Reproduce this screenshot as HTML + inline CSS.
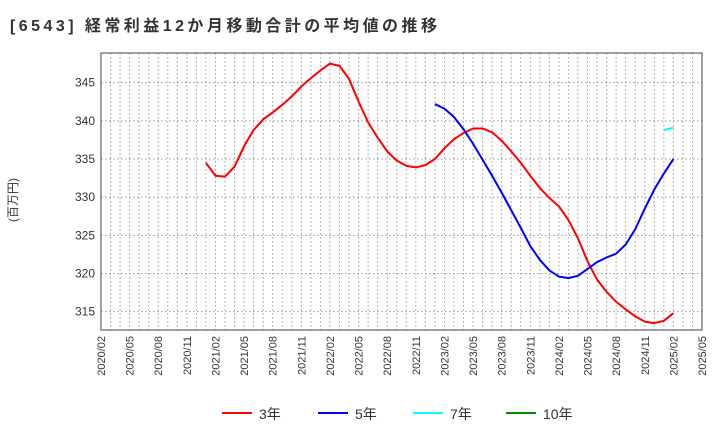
<!DOCTYPE html>
<html><head><meta charset="utf-8"><style>
body{margin:0;background:#fff;font-family:"Liberation Sans","Noto Sans CJK JP",sans-serif;}
</style></head><body>
<svg id="c" width="720" height="440" xmlns="http://www.w3.org/2000/svg" font-family="Liberation Sans, Noto Sans CJK JP, sans-serif">
<text x="10" y="31" font-size="16" font-weight="bold" fill="#333" textLength="427" lengthAdjust="spacing">[6543]  経常利益12か月移動合計の平均値の推移</text>
<text transform="translate(17,200) rotate(-90)" font-size="12" fill="#333" text-anchor="middle">(百万円)</text>
<g id="grid"></g><g id="series"></g><g id="axes"></g>
<g id="legend"></g>
</svg>
<script>
const yTicks=[315,320,325,330,335,340,345];
const xLabels=["2020/02","2020/05","2020/08","2020/11","2021/02","2021/05","2021/08","2021/11","2022/02","2022/05","2022/08","2022/11","2023/02","2023/05","2023/08","2023/11","2024/02","2024/05","2024/08","2024/11","2025/02","2025/05"];
const s3=[334.5,332.8,332.7,334,336.7,338.8,340.2,341.1,342.1,343.2,344.5,345.6,346.6,347.5,347.2,345.5,342.5,339.8,337.8,336,334.8,334.1,333.9,334.2,335,336.4,337.6,338.4,339,339,338.5,337.4,336,334.5,332.8,331.2,329.9,328.8,327,324.6,321.6,319.2,317.6,316.3,315.3,314.4,313.7,313.5,313.8,314.8];
const s3Start=11;
const s5=[342.2,341.6,340.5,338.9,337,334.9,332.8,330.6,328.3,326,323.6,321.8,320.4,319.6,319.4,319.7,320.6,321.5,322.1,322.6,323.8,325.8,328.5,331,333.1,335];
const s5Start=35;
const s7=[338.8,339.1];
const s7Start=59;
const L=101,R=702,T=53,B=330,NM=63;
const x=i=>L+i*(R-L)/NM;
const Y=v=>B-(v-312.6)*(229/30);
const ns="http://www.w3.org/2000/svg";
function mk(t,a,p){const e=document.createElementNS(ns,t);for(const k in a)e.setAttribute(k,a[k]);p.appendChild(e);return e;}
const g=document.getElementById('grid'),ax=document.getElementById('axes'),se=document.getElementById('series'),lg=document.getElementById('legend');
for(let i=1;i<NM;i++){const l=mk('line',{x1:x(i),x2:x(i),y1:T,y2:B,stroke:'#999','stroke-dasharray':'1.5,2.5'},g);

}
yTicks.forEach(v=>{const l=mk('line',{x1:L,x2:R,y1:Y(v),y2:Y(v),stroke:'#999','stroke-dasharray':'1.5,2.5'},g);


const t=mk('text',{x:L-6,y:Y(v)+4,'font-size':12,fill:'#333','text-anchor':'end'},ax);t.textContent=v;

});
xLabels.forEach((s,i)=>{const xx=x(i*3);const t=mk('text',{transform:`translate(${xx+4},${B+6}) rotate(-90)`,'font-size':11,fill:'#333','text-anchor':'end'},ax);t.textContent=s;

});
const fr=mk('rect',{x:L,y:T,width:R-L,height:B-T,fill:'none',stroke:'#444','stroke-width':1},ax);


function line(d,st,c,n){const p=mk('polyline',{points:d.map((v,i)=>x(st+i)+','+Y(v)).join(' '),fill:'none',stroke:c,'stroke-width':2,'stroke-linejoin':'round'},se);

}
line(s3,s3Start,'#f00','line-3y');line(s5,s5Start,'#00f','line-5y');line(s7,s7Start,'#0ff','line-7y');
const items=[['3年','#f00',222],['5年','#00f',318],['7年','#0ff',413],['10年','#080',506]];
items.forEach(([t,c,xx])=>{const gg=mk('g',{},lg);


mk('line',{x1:xx,x2:xx+30,y1:413,y2:413,stroke:c,'stroke-width':2},gg);
const tx=mk('text',{x:xx+37,y:419,'font-size':14,fill:'#333'},gg);tx.textContent=t;});
</script>
</body></html>
